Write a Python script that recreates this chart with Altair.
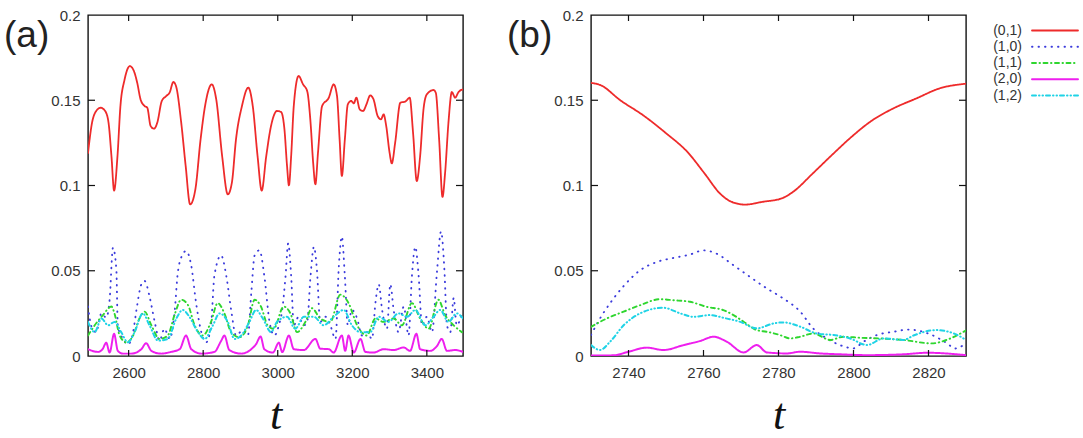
import altair as alt
import pandas as pd

# ---- series definitions -------------------------------------------------
SERIES = ["(0,1)", "(1,0)", "(1,1)", "(2,0)", "(1,2)"]
COLORS = ["#ee2b2b", "#3b3bdc", "#2fd62f", "#ee1fee", "#1fd3e6"]
DASHES = [[1, 0], [0.5, 6.0], [4, 3.5, 0.5, 3.5], [1, 0], [4, 3, 0.5, 3, 0.5, 3]]
WIDTHS = [1.8, 2.0, 1.7, 1.8, 1.5]

X_TICKS_A = [2600, 2800, 3000, 3200, 3400]
X_TICKS_B = [2740, 2760, 2780, 2800, 2820]
Y_LABELS = [0, 0.05, 0.1, 0.15, 0.2]
Y_INNER_TICKS = [0.05, 0.1, 0.15]

# ---- panel (a): long time window ------------------------------------------
A01_T = [2491, 2502, 2513, 2525, 2537, 2546, 2554, 2561, 2570, 2578, 2589, 2603, 2614, 2623,
         2632, 2643, 2650, 2659, 2668, 2677, 2689, 2701, 2710, 2720, 2727, 2741, 2753, 2765,
         2779, 2793, 2805, 2823, 2835, 2851, 2866, 2877, 2888, 2904, 2921, 2933, 2946, 2957,
         2969, 2982, 2998, 3009, 3018, 3025, 3030, 3036, 3043, 3056, 3068, 3079, 3088, 3095,
         3101, 3108, 3119, 3137, 3150, 3159, 3166, 3172, 3180, 3188, 3197, 3204, 3211, 3220,
         3229, 3238, 3248, 3257, 3268, 3277, 3284, 3291, 3300, 3306, 3315, 3329, 3342, 3354,
         3363, 3373, 3382, 3391, 3400, 3418, 3424, 3433, 3442, 3449, 3458, 3467, 3476, 3485, 3497]
A01_V = [0.119, 0.137, 0.1437, 0.1456, 0.1437, 0.137, 0.117, 0.097, 0.117, 0.1466, 0.162, 0.170,
         0.1672, 0.1603, 0.1505, 0.1466, 0.1456, 0.1349, 0.1333, 0.137, 0.1496, 0.1525, 0.1545,
         0.1607, 0.1584, 0.137, 0.1115, 0.0889, 0.0977, 0.127, 0.1466, 0.1593, 0.1505, 0.117,
         0.0948, 0.1017, 0.127, 0.1466, 0.1574, 0.1466, 0.117, 0.097, 0.117, 0.1349, 0.1437,
         0.1431, 0.1329, 0.1114, 0.1001, 0.1173, 0.1466, 0.1642, 0.1593, 0.1554, 0.137, 0.1134,
         0.1007, 0.1193, 0.1466, 0.1515, 0.1593, 0.1525, 0.127, 0.1056, 0.127, 0.1476, 0.1496,
         0.1482, 0.1515, 0.1446, 0.1437, 0.1476, 0.1528, 0.1505, 0.1408, 0.1388, 0.1417, 0.1349,
         0.1193, 0.1130, 0.1251, 0.1486, 0.1492, 0.1515, 0.1310, 0.1026, 0.1173, 0.1446, 0.1535,
         0.156, 0.1544, 0.127, 0.0933, 0.1075, 0.137, 0.1548, 0.1515, 0.1548, 0.1564]

A10_T = [2491, 2500, 2513, 2527, 2540, 2549, 2558, 2567, 2571, 2585, 2598, 2612, 2621, 2634,
         2643, 2656, 2670, 2683, 2696, 2710, 2723, 2732, 2745, 2754, 2768, 2781, 2795, 2808,
         2821, 2830, 2848, 2862, 2875, 2888, 2906, 2920, 2929, 2938, 2951, 2964, 2978, 2991,
         3003, 3012, 3021, 3028, 3036, 3043, 3056, 3070, 3079, 3088, 3097, 3105, 3114, 3128,
         3141, 3155, 3164, 3172, 3180, 3188, 3199, 3213, 3226, 3239, 3253, 3262, 3271, 3280,
         3293, 3302, 3311, 3324, 3338, 3351, 3360, 3369, 3378, 3387, 3400, 3414, 3427, 3438,
         3447, 3454, 3463, 3472, 3480, 3494]
A10_V = [0.029, 0.0175, 0.014, 0.025, 0.0225, 0.033, 0.0635, 0.051, 0.0176, 0.010, 0.0068,
         0.014, 0.027, 0.042, 0.044, 0.035, 0.020, 0.009, 0.016, 0.010, 0.025, 0.049, 0.0596,
         0.0616, 0.053, 0.031, 0.014, 0.008, 0.018, 0.047, 0.059, 0.047, 0.027, 0.012, 0.015,
         0.012, 0.037, 0.059, 0.062, 0.047, 0.020, 0.012, 0.018, 0.027, 0.047, 0.066, 0.047,
         0.018, 0.023, 0.018, 0.020, 0.047, 0.064, 0.051, 0.020, 0.023, 0.018, 0.010, 0.053,
         0.070, 0.047, 0.018, 0.027, 0.022, 0.012, 0.014, 0.010, 0.031, 0.042, 0.027, 0.016,
         0.042, 0.027, 0.014, 0.029, 0.012, 0.047, 0.064, 0.047, 0.018, 0.023, 0.014, 0.049,
         0.073, 0.051, 0.018, 0.014, 0.034, 0.018, 0.025]

A11_T = [2491, 2509, 2531, 2554, 2562, 2576, 2594, 2612, 2629, 2643, 2661, 2683, 2705, 2723,
         2741, 2759, 2777, 2799, 2821, 2839, 2857, 2875, 2897, 2920, 2938, 2955, 2973, 2989,
         3016, 3034, 3052, 3074, 3092, 3114, 3141, 3168, 3190, 3213, 3239, 3262, 3284, 3311,
         3333, 3360, 3382, 3405, 3431, 3449, 3472, 3494]
A11_V = [0.012, 0.018, 0.024, 0.029, 0.025, 0.012, 0.008, 0.012, 0.022, 0.026, 0.018, 0.010,
         0.012, 0.024, 0.033, 0.030, 0.018, 0.012, 0.020, 0.031, 0.025, 0.014, 0.011, 0.018,
         0.033, 0.029, 0.018, 0.016, 0.029, 0.025, 0.014, 0.020, 0.028, 0.022, 0.020, 0.036,
         0.031, 0.018, 0.012, 0.022, 0.020, 0.022, 0.018, 0.031, 0.022, 0.016, 0.033, 0.024,
         0.018, 0.014]

A20_T = [2491, 2518, 2530, 2540, 2549, 2561, 2571, 2585, 2607, 2634, 2647, 2661, 2687, 2714,
         2737, 2754, 2768, 2795, 2830, 2848, 2857, 2870, 2902, 2929, 2942, 2954, 2964, 2987,
         3003, 3012, 3030, 3043, 3070, 3101, 3114, 3137, 3150, 3172, 3181, 3190, 3204, 3222,
         3235, 3257, 3284, 3311, 3338, 3355, 3372, 3382, 3409, 3427, 3440, 3454, 3476, 3497]
A20_V = [0.004, 0.0024, 0.004, 0.0078, 0.002, 0.013, 0.003, 0.0014, 0.0014, 0.004, 0.0075,
         0.003, 0.0014, 0.0024, 0.004, 0.012, 0.004, 0.0014, 0.0024, 0.0088, 0.012, 0.0035,
         0.0014, 0.004, 0.007, 0.0114, 0.004, 0.002, 0.0078, 0.0023, 0.012, 0.004, 0.0035,
         0.010, 0.0043, 0.004, 0.002, 0.012, 0.003, 0.012, 0.002, 0.010, 0.0024, 0.002, 0.004,
         0.0035, 0.005, 0.003, 0.013, 0.004, 0.003, 0.0058, 0.010, 0.003, 0.0035, 0.0024]

A12_T = [2491, 2509, 2527, 2545, 2562, 2580, 2598, 2616, 2638, 2656, 2679, 2705, 2728, 2745,
         2763, 2786, 2804, 2826, 2844, 2866, 2884, 2902, 2924, 2942, 2960, 2982, 2998, 3025,
         3047, 3070, 3097, 3123, 3150, 3177, 3199, 3222, 3248, 3271, 3297, 3324, 3347, 3369,
         3396, 3418, 3436, 3458, 3480, 3497]
A12_V = [0.020, 0.014, 0.022, 0.018, 0.020, 0.014, 0.008, 0.014, 0.025, 0.018, 0.009, 0.010,
         0.022, 0.027, 0.023, 0.014, 0.010, 0.018, 0.025, 0.020, 0.010, 0.012, 0.020, 0.027,
         0.022, 0.014, 0.020, 0.023, 0.016, 0.023, 0.023, 0.018, 0.023, 0.027, 0.018, 0.014,
         0.014, 0.023, 0.020, 0.025, 0.023, 0.027, 0.018, 0.023, 0.027, 0.020, 0.025, 0.022]

# ---- panel (b): zoom on one event ---------------------------------------
B01_T = [2730, 2732.6, 2737.8, 2743.9, 2750.1, 2755.7, 2760.3, 2764.4, 2767.5, 2771.1, 2775.7,
         2780.8, 2783.9, 2789.1, 2794.2, 2799.3, 2804.4, 2810.6, 2816.7, 2822.9, 2830]
B01_V = [0.1602, 0.1588, 0.150, 0.1412, 0.1305, 0.1197, 0.107, 0.0953, 0.0904, 0.0888, 0.0904,
         0.0924, 0.0963, 0.107, 0.1178, 0.1282, 0.1373, 0.1452, 0.151, 0.1569, 0.1597]

B10_T = [2730, 2732.4, 2735.1, 2738.7, 2743.1, 2747.6, 2752, 2756.4, 2760, 2763.5, 2768, 2772.4,
         2776.9, 2781.3, 2785.8, 2789.3, 2792.9, 2796.4, 2800, 2802.7, 2806.2, 2810.7, 2814.7,
         2819.8, 2825, 2827, 2830]
B10_V = [0.0123, 0.022, 0.031, 0.041, 0.0503, 0.0552, 0.0575, 0.0595, 0.062, 0.060, 0.0532,
         0.0464, 0.0396, 0.0337, 0.026, 0.016, 0.0103, 0.0064, 0.0045, 0.0084, 0.0123, 0.0142,
         0.0155, 0.0133, 0.0074, 0.0044, 0.0074]

B11_T = [2730, 2734.2, 2738.7, 2743.1, 2748.4, 2752, 2756.4, 2760.9, 2765.3, 2768, 2770.7,
         2774.2, 2776.9, 2780.4, 2783.1, 2785.8, 2789.3, 2793.8, 2797.3, 2801.8, 2807.1, 2813.3,
         2820.8, 2825.5, 2830]
B11_V = [0.0171, 0.022, 0.026, 0.0298, 0.0333, 0.0327, 0.0318, 0.0288, 0.0269, 0.024, 0.0201,
         0.0152, 0.0142, 0.0123, 0.0103, 0.0113, 0.0132, 0.0094, 0.0113, 0.0107, 0.0103, 0.0094,
         0.0074, 0.010, 0.015]

B20_T = [2730, 2736, 2740, 2744.9, 2749.3, 2754.7, 2759.1, 2762.7, 2766.2, 2770.7, 2774.2,
         2776.9, 2782.2, 2785.8, 2791.1, 2796.4, 2803.6, 2813.3, 2819.8, 2830]
B20_V = [0.0003, 0.0004, 0.0025, 0.0049, 0.0035, 0.0064, 0.0088, 0.0113, 0.0084, 0.0021, 0.0064,
         0.0021, 0.0015, 0.0025, 0.0015, 0.001, 0.0005, 0.001, 0.0019, 0.0005]

B12_T = [2730, 2732.4, 2735.1, 2738.7, 2743.1, 2749.3, 2753.8, 2757.3, 2761.8, 2765.3, 2769.8,
         2774.2, 2778.7, 2781.3, 2785.8, 2790.2, 2794.7, 2799.1, 2803.6, 2808, 2813.3, 2816,
         2821.9, 2827, 2830]
B12_V = [0.0064, 0.0035, 0.0084, 0.018, 0.025, 0.0283, 0.025, 0.023, 0.024, 0.0224, 0.020,
         0.0162, 0.0191, 0.0197, 0.0172, 0.0132, 0.0123, 0.0103, 0.0064, 0.0103, 0.0094, 0.012,
         0.0152, 0.013, 0.0094]


def long_frame(pairs):
    parts = []
    for name, (ts, vs) in zip(SERIES, pairs):
        parts.append(pd.DataFrame({"t": ts, "v": vs, "series": name}))
    return pd.concat(parts, ignore_index=True)


df_a = long_frame([(A01_T, A01_V), (A10_T, A10_V), (A11_T, A11_V), (A20_T, A20_V), (A12_T, A12_V)])
df_b = long_frame([(B01_T, B01_V), (B10_T, B10_V), (B11_T, B11_V), (B20_T, B20_V), (B12_T, B12_V)])

W, H = 375, 341
TICK = 6
LABEL_FONT = "Liberation Sans"

color_enc = alt.Color("series:N", scale=alt.Scale(domain=SERIES, range=COLORS), legend=None)
dash_enc = alt.StrokeDash("series:N", scale=alt.Scale(domain=SERIES, range=DASHES), legend=None)
width_enc = alt.StrokeWidth("series:N", scale=alt.Scale(domain=SERIES, range=WIDTHS), legend=None)


def panel_layers(df, x_domain, x_ticks, tag):
    xs = alt.Scale(domain=x_domain, nice=False, zero=False)
    ys = alt.Scale(domain=[0, 0.2], nice=False)
    x_axis = alt.Axis(values=x_ticks, format="d", title="t", titleY=72,
                      titleBaseline="alphabetic", labelPadding=9)
    y_axis = alt.Axis(values=Y_LABELS, format="~g", title=None, labelPadding=8,
                      labelFlush=False)

    lines = alt.Chart(df).mark_line(interpolate="monotone", clip=True, strokeCap="round").encode(
        x=alt.X("t:Q", scale=xs, axis=x_axis),
        y=alt.Y("v:Q", scale=ys, axis=y_axis),
        color=color_enc, strokeDash=dash_enc, strokeWidth=width_enc,
    )

    # gnuplot-style inward ticks on all four sides of the frame
    xt = pd.DataFrame({"t": x_ticks})
    yt = pd.DataFrame({"v": Y_INNER_TICKS})
    rule = dict(color="#111", strokeWidth=1.2)
    x_top = alt.Chart(xt).mark_rule(**rule).encode(
        x=alt.X("t:Q", scale=xs, axis=x_axis), y=alt.value(0), y2=alt.value(TICK))
    x_bot = alt.Chart(xt).mark_rule(**rule).encode(
        x=alt.X("t:Q", scale=xs, axis=x_axis), y=alt.value(H - TICK), y2=alt.value(H))
    y_left = alt.Chart(yt).mark_rule(**rule).encode(
        y=alt.Y("v:Q", scale=ys, axis=y_axis), x=alt.value(0), x2=alt.value(TICK + 1))
    y_right = alt.Chart(yt).mark_rule(**rule).encode(
        y=alt.Y("v:Q", scale=ys, axis=y_axis), x=alt.value(W - TICK - 1), x2=alt.value(W))

    tag_mark = alt.Chart(pd.DataFrame({"s": [tag]})).mark_text(
        align="left", baseline="alphabetic", font=LABEL_FONT, fontSize=37, color="#222"
    ).encode(text="s:N", x=alt.value(-84), y=alt.value(32))

    return alt.layer(lines, x_top, x_bot, y_left, y_right, tag_mark)


panel_a = panel_layers(df_a, [2491, 3497], X_TICKS_A, "(a)").properties(width=W, height=H)

# key drawn to the right of panel (b), one row per series
key_df = pd.DataFrame({"series": SERIES, "row": list(range(len(SERIES)))})
key_y = alt.Y("row:Q", scale=alt.Scale(domain=[0, len(SERIES) - 1], range=[15.5, 80.5],
                                        nice=False, zero=False), axis=None)
key_lines = alt.Chart(key_df).mark_rule(strokeCap="round").encode(
    y=key_y, x=alt.value(441), x2=alt.value(487),
    color=color_enc, strokeDash=dash_enc, strokeWidth=width_enc,
)
key_text = alt.Chart(key_df).mark_text(
    align="right", baseline="middle", font=LABEL_FONT, fontSize=14, color="#333"
).encode(y=key_y, x=alt.value(431), text="series:N")

panel_b = alt.layer(
    panel_layers(df_b, [2730, 2830], X_TICKS_B, "(b)"),
    alt.layer(key_lines, key_text),
).resolve_scale(y="independent").properties(width=W, height=H)

chart = alt.hconcat(panel_a, panel_b, spacing=41).properties(
    padding={"left": 3, "top": 7, "right": 0, "bottom": 0},
    background="white",
).configure_view(
    stroke="#111", strokeWidth=1.4
).configure_axis(
    labelFont=LABEL_FONT, labelFontSize=15, labelColor="#333",
    ticks=False, tickSize=0, domain=False, grid=False,
    titleFont="Liberation Serif", titleFontStyle="italic", titleFontWeight="normal",
    titleFontSize=44, titleColor="#111",
)

chart.save("out.html", embed_options={"renderer": "svg", "actions": False})
